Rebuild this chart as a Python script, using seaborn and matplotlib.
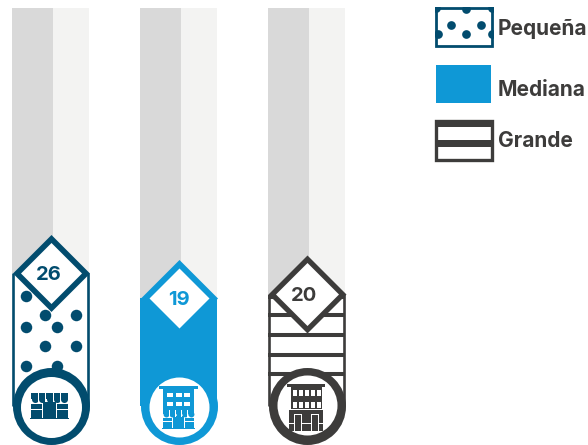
import matplotlib
matplotlib.use('Agg')
import matplotlib.pyplot as plt
import pandas as pd
import seaborn as sns
from matplotlib.patches import Rectangle
from matplotlib.transforms import Affine2D

# data
sizes = ['Pequeña', 'Mediana', 'Grande']
values = [26, 19, 20]
track_max = [100, 100, 100]

navy = '#024c6e'
blue = '#0f98d6'
dark = '#3d3c3b'
colors = [navy, blue, dark]

sns.set_theme(style='white')
plt.rcParams['font.family'] = ['Inter', 'DejaVu Sans']

W, H = 588, 445
fig = plt.figure(figsize=(W / 100, H / 100), dpi=100)
ax = fig.add_axes([0, 0, 1, 1])
px = Affine2D().scale(1, -1).translate(0, H)  # decoracion en pixeles

y0 = 366
per_unit = 3.58
bar_w = 77 / 128
centers = [50.5, 178.5, 306.5]


def box(x, y, w, h, c, z):
    ax.add_patch(Rectangle((x, y), w, h, fc=c, ec='none', lw=0, transform=px, zorder=z))


def hline(x1, x2, y, c, lw, z):
    ax.plot([x1, x2], [y, y], color=c, lw=lw, transform=px, zorder=z, solid_capstyle='butt')


def dots(xs, ys, c, d, z, clip=None):
    art = ax.scatter(xs, ys, s=(d * .72) ** 2, color=c, lw=0, transform=px, zorder=z)
    if clip is not None:
        art.set_clip_path(clip)


def store(x, y, w, h, c, z):
    # toldo con ondas y cuerpo de la tienda
    band = h * 0.22
    box(x, y, w, band, c, z)
    step = w / 5
    dots([x + step * (i + .5) for i in range(5)], [y + band] * 5, c, step * .95, z)
    for i in range(1, 5):
        box(x + step * i - .4, y, .8, band * 1.7, 'white', z + .1)
    yb = y + h * .42
    box(x, yb, w * .29, h - (yb - y), c, z)
    box(x + w * .71, yb, w * .29, h - (yb - y), c, z)
    box(x + w * .33, y + h * .36, w * .34, h * .64, c, z)
    box(x, y + h * .62, w * .29, 1, 'white', z + .1)
    box(x + w * .71, y + h * .62, w * .29, 1, 'white', z + .1)
    box(x - 1, y + h, w + 2, 1.2, c, z)


# barras de fondo y barras de valor
df = pd.DataFrame({'size': sizes, 'value': values})
sns.barplot(data=df, x='size', y='value', hue='size', order=sizes, hue_order=sizes,
            palette=['white', blue, 'white'], saturation=1, width=bar_w, legend=False, ax=ax,
            zorder=2, linewidth=0, edgecolor='none')
pos = list(range(len(sizes)))
ax.bar([p - bar_w / 2 for p in pos], track_max, width=41 / 128, align='edge', color='#d9d9d9',
       zorder=1, lw=0, edgecolor='none')
ax.bar([p - bar_w / 2 + 41 / 128 for p in pos], track_max, width=36 / 128, align='edge', color='#f3f3f2',
       zorder=1, lw=0, edgecolor='none')

ax.set_xlim(-centers[0] / 128, (W - centers[0]) / 128)
ax.set_ylim((y0 - H) / per_unit, y0 / per_unit)
ax.axis('off')

# cola de cada barra, hasta el circulo
cy = 406
for cx, c, val in zip(centers, colors, values):
    box(cx - 38.5, y0, 77, cy - y0, blue if c == blue else 'white', 2)
    if c != blue:
        top = y0 - val * per_unit
        for side in (-37.3, 37.3):
            ax.plot([cx + side, cx + side], [top, cy], color=c, lw=1.9, transform=px, zorder=4,
                    solid_capstyle='butt')

# puntos de Pequeña
dots([25.7, 45, 76, 25.7, 56.7, 45, 76, 25.7, 56.7],
     [295.7, 315, 315, 326.7, 326.7, 346, 346, 365.7, 365.7], navy, 11.5, 3)

# rayas de Grande
for yy in [297, 315, 335, 354.5, 374]:
    hline(268, 345, yy, dark, 2.9, 3)

# rombos y etiquetas
outer = [77, 77, 78]
inner = [61, 60, 63]
label_dx = [-1.5, 0, -1.5]
for p, val, c, o, i, dx in zip(pos, values, colors, outer, inner, label_dx):
    ax.scatter([p], [val], marker='D', s=(o * .72) ** 2 / 2, color=c, lw=0, zorder=5)
    ax.scatter([p], [val], marker='D', s=(i * .72) ** 2 / 2, color='white', lw=0, zorder=6)
    ax.annotate(str(val), (p, val), xytext=(dx, 0), textcoords='offset points', ha='center',
                va='center_baseline', color=c, fontsize=14.5, fontweight='bold', zorder=7)

# circulos
for cx, c, r_in, cyi in zip(centers, colors, [61, 60, 60], [406.5, 406.5, 404.5]):
    dots([cx], [cy], c, 77, 8)
    dots([cx], [cyi], 'white', r_in, 9)

# iconos
store(31, 393, 37, 25, navy, 10)

box(159, 386, 39, 3, blue, 10)
box(163, 389, 31, 21, blue, 10)
for xx in [167, 176, 184]:
    for yy in [393, 402]:
        box(xx, yy, 6, 4, 'white', 11)
store(163, 410, 31, 18, blue, 10)

box(287, 384, 38, 3, dark, 10)
box(291, 387, 31, 22, dark, 10)
for k in range(5):
    for yy in [390, 402]:
        box(292.5 + k * 6, yy, 4.2, 6, 'white', 11)
box(289, 410, 34, 21, dark, 10)
for xx in [294, 311]:
    box(xx, 414, 8, 17, 'white', 11)
    box(xx + 1, 415, 6, 16, dark, 12)
box(289, 423, 5, 1, 'white', 11)
box(319, 423, 4, 1, 'white', 11)
box(302, 423, 9, 1, 'white', 11)

# leyenda
clip = Rectangle((435, 6.5), 58, 41, transform=px, fc='none', ec='none')
ax.add_patch(clip)
dots([451.3, 481.3, 466.3, 466.3, 438, 492, 436, 492], [25, 25, 34.3, 9, 34, 34, 8, 8], navy, 8.7, 3, clip=clip)
ax.add_patch(Rectangle((436.2, 7.7), 55.6, 38.6, fc='none', ec=navy, lw=2, transform=px, zorder=4))
box(436, 65, 55, 38, blue, 3)
ax.add_patch(Rectangle((436.2, 121.2), 55.6, 38.6, fc='none', ec=dark, lw=2.4, transform=px, zorder=4))
box(435, 120, 58, 7, dark, 3)
box(435, 140, 58, 7, dark, 3)

for name, yy in zip(sizes, [27, 88, 139]):
    ax.text(498, yy, name, transform=px, color=dark, fontsize=15, fontweight='bold', ha='left',
            va='center_baseline', zorder=5)

fig.savefig('out.png', dpi=100)
